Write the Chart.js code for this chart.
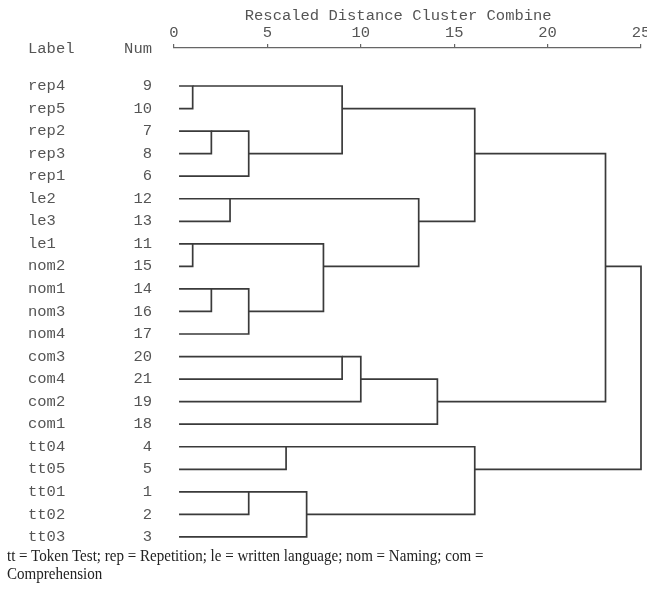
<!DOCTYPE html>
<html>
<head>
<meta charset="utf-8">
<script src="https://cdn.jsdelivr.net/npm/chart.js@4.4.1/dist/chart.umd.min.js"></script>
<style>
  html, body { margin: 0; padding: 0; background: #ffffff; }
  #wrap { position: relative; width: 647px; height: 593px; overflow: hidden; }
  #c { position: absolute; left: 0; top: 0; }
  #foot {
    position: absolute; left: 7px; top: 547px;
    font-family: "Liberation Serif", "Times New Roman", serif;
    font-size: 17px; line-height: 18px; color: #222; white-space: nowrap;
    transform: scaleX(0.885); transform-origin: 0 0;
  }
</style>
</head>
<body>
<div id="wrap">
  <canvas id="c" width="647" height="548"></canvas>
  <div id="foot">tt = Token Test; rep = Repetition; le = written language; nom = Naming; com =<br>Comprehension</div>
</div>
<script>
// ---- Data ----
const leafLabels = ['rep4','rep5','rep2','rep3','rep1','le2','le3','le1','nom2','nom1','nom3','nom4',
                    'com3','com4','com2','com1','tt04','tt05','tt01','tt02','tt03'];
const leafNums   = [9,10,7,8,6,12,13,11,15,14,16,17,20,21,19,18,4,5,1,2,3];
// Merge steps: children are leaf index (0..20) or 21 + merge index
const mergeLeft  = [0, 2, 22, 21, 5, 7, 9, 27, 26, 25, 24, 12, 32, 33, 31, 16, 18, 37, 36, 35];
const mergeRight = [1, 3, 4, 23, 6, 8, 10, 11, 28, 29, 30, 13, 14, 15, 34, 17, 19, 20, 38, 39];
const mergeDist  = [1.0, 2.0, 4.0, 9.0, 3.0, 1.0, 2.0, 4.0, 8.0, 13.1, 16.1, 9.0, 10.0, 14.1, 23.1, 6.0, 4.0, 7.1, 16.1, 25.0];
const xTicks = [0, 5, 10, 15, 20, 25];
const axisTitle = 'Rescaled Distance Cluster Combine';
const headerLabel = 'Label';
const headerNum = 'Num';

// ---- Layout / style ----
const MONO = '"Liberation Mono", "DejaVu Sans Mono", monospace';
const TEXT_COL = '#555';
const LINE_COL = '#3a3a3a';
const LEAF_X = 0.27;
const nLeaves = leafLabels.length;

// Build dendrogram polylines (one dataset per merge)
const nodeRow = [], nodeX = [];
for (let i = 0; i < nLeaves; i++) { nodeRow[i] = i; nodeX[i] = LEAF_X; }
const datasets = [];
for (let k = 0; k < mergeDist.length; k++) {
  const a = mergeLeft[k], b = mergeRight[k], d = mergeDist[k];
  const ra = nodeRow[a], rb = nodeRow[b];
  datasets.push({
    data: [{x: nodeX[a], y: ra}, {x: d, y: ra}, {x: d, y: rb}, {x: nodeX[b], y: rb}],
    showLine: true, borderColor: LINE_COL, borderWidth: 1.7, pointRadius: 0,
    fill: false, tension: 0, clip: false, yAxisID: 'y'
  });
  nodeRow[nLeaves + k] = Math.floor((ra + rb) / 2);
  nodeX[nLeaves + k] = d;
}

const rowTicks = (scale) => { scale.ticks = leafLabels.map((_, i) => ({value: i})); };
const Y_MIN = -1.685, Y_MAX = 20.49;

const headerPlugin = {
  id: 'headers',
  afterDraw(chart) {
    const ctx = chart.ctx;
    const yl = chart.scales.yLabel, yn = chart.scales.y;
    ctx.save();
    ctx.font = '15.5px ' + MONO;
    ctx.fillStyle = TEXT_COL;
    ctx.textBaseline = 'middle';
    ctx.textAlign = 'left';
    ctx.fillText(headerLabel, yl.left, 49);
    ctx.textAlign = 'right';
    ctx.fillText(headerNum, yn.right - 22, 49);
    ctx.restore();
  }
};

new Chart(document.getElementById('c'), {
  type: 'scatter',
  data: { datasets },
  plugins: [headerPlugin],
  options: {
    responsive: false,
    animation: false,
    devicePixelRatio: 1,
    layout: { padding: { left: 28, right: 6, top: 0, bottom: 0 } },
    plugins: { legend: { display: false }, tooltip: { enabled: false } },
    scales: {
      x: {
        type: 'linear', position: 'top', min: 0, max: 25,
        afterBuildTicks: (s) => { s.ticks = xTicks.map(v => ({value: v})); },
        afterFit: (s) => { s.height = 48; s.paddingLeft = 0; s.paddingRight = 0; },
        ticks: { font: { family: MONO, size: 15.5 }, color: TEXT_COL, padding: 1.5, maxRotation: 0, autoSkip: false },
        grid: { display: true, drawOnChartArea: false, drawTicks: true, tickLength: 4, color: '#666', lineWidth: 1.2 },
        border: { display: true, color: '#666', width: 1.2, dash: [5, 4.34], dashOffset: 2.5 },
        title: { display: true, text: axisTitle + '  ', font: { family: MONO, size: 15.5 }, color: TEXT_COL, padding: { top: 7, bottom: 0 } }
      },
      y: {
        type: 'linear', position: 'left', reverse: true, min: Y_MIN, max: Y_MAX, weight: 0,
        afterBuildTicks: rowTicks,
        afterFit: (s) => { s.width = 50; s.paddingTop = 0; s.paddingBottom = 0; },
        ticks: { callback: (v) => leafNums[v], font: { family: MONO, size: 15.5 }, color: TEXT_COL, padding: 22, autoSkip: false },
        grid: { display: false, drawTicks: false },
        border: { display: false }
      },
      yLabel: {
        type: 'linear', position: 'left', reverse: true, min: Y_MIN, max: Y_MAX, weight: 1,
        afterBuildTicks: rowTicks,
        afterFit: (s) => { s.width = 96; s.paddingTop = 0; s.paddingBottom = 0; },
        ticks: { callback: (v) => leafLabels[v], crossAlign: 'far', font: { family: MONO, size: 15.5 }, color: TEXT_COL, padding: 0, autoSkip: false },
        grid: { display: false, drawTicks: false },
        border: { display: false }
      }
    }
  }
});
</script>
</body>
</html>
